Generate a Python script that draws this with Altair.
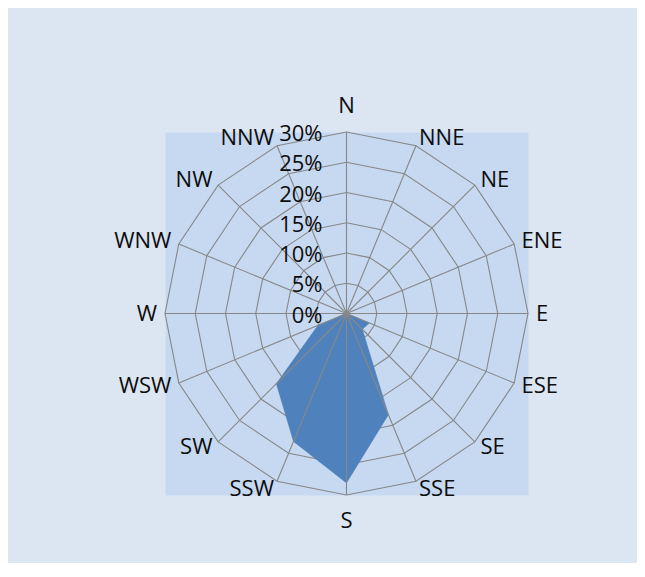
import altair as alt
import pandas as pd

# ---- data ----
directions = ["N", "NNE", "NE", "ENE", "E", "ESE", "SE", "SSE",
              "S", "SSW", "SW", "WSW", "W", "WNW", "NW", "NNW"]
share = [0, 0, 0, 0, 0, 4.1, 3.7, 18.1, 28.0, 22.9, 16.4, 5.1, 0, 0, 0, 0]
ring_levels = [5, 10, 15, 20, 25, 30]
tick_levels = [0, 5, 10, 15, 20, 25, 30]
tick_labels = ["0%", "5%", "10%", "15%", "20%", "25%", "30%"]

RMAX = 30
SIZE = 363
PX = SIZE / (2 * RMAX)  # pixels per data unit

FONT = "Open Sans"
FS = 22
TXT = "#0d0d0d"
GRID = "#878787"

series = pd.DataFrame({"dir": directions, "idx": list(range(16)), "val": share})
rings = pd.DataFrame(
    [{"level": lv, "idx": i} for lv in ring_levels for i in range(16)]
)
spokes = pd.DataFrame({"dir": directions, "idx": list(range(16)),
                       "r": [RMAX] * 16, "zero": [0] * 16})
ticks = pd.DataFrame({"level": tick_levels, "label": tick_labels, "zero": [0] * 7})

xs = alt.Scale(domain=[-RMAX, RMAX], nice=False, zero=False)
ys = alt.Scale(domain=[-RMAX, RMAX], nice=False, zero=False)

ANG = "datum.idx * PI / 8"


def X(field):
    return alt.X(field, type="quantitative", scale=xs, axis=None)


def Y(field):
    return alt.Y(field, type="quantitative", scale=ys, axis=None)


ring_layer = alt.Chart(rings).transform_calculate(
    px=f"datum.level * sin({ANG})", py=f"datum.level * cos({ANG})"
).mark_line(interpolate="linear-closed", color=GRID, strokeWidth=1.1).encode(
    x=X("px"), y=Y("py"), detail="level:N", order="idx:Q"
)

poly_layer = alt.Chart(series).transform_calculate(
    px=f"datum.val * sin({ANG})", py=f"datum.val * cos({ANG})"
).mark_line(interpolate="linear-closed", fill="#4f81bd", stroke="#4f81bd",
            strokeWidth=0.5, fillOpacity=1).encode(
    x=X("px"), y=Y("py"), order="idx:Q"
)

spoke_layer = alt.Chart(spokes).transform_calculate(
    px=f"datum.r * sin({ANG})", py=f"datum.r * cos({ANG})"
).mark_rule(color=GRID, strokeWidth=1.1).encode(
    x=X("zero"), y=Y("zero"), x2="px:Q", y2="py:Q"
)

side_r = RMAX + 8 / PX
vert_r = RMAX + 26 / PX

label_base = alt.Chart(series).transform_calculate(
    lr=f"(datum.idx == 0 || datum.idx == 8) ? {vert_r} : {side_r}"
).transform_calculate(
    px=f"datum.lr * sin({ANG})", py=f"datum.lr * cos({ANG})"
)

text_kw = dict(font=FONT, fontSize=FS, color=TXT, baseline="middle")

lab_left = label_base.transform_filter("datum.idx >= 1 && datum.idx <= 7").mark_text(
    align="left", **text_kw).encode(x=X("px"), y=Y("py"), text="dir:N")
lab_right = label_base.transform_filter("datum.idx >= 9").mark_text(
    align="right", **text_kw).encode(x=X("px"), y=Y("py"), text="dir:N")
lab_mid = label_base.transform_filter("datum.idx == 0 || datum.idx == 8").mark_text(
    align="center", **text_kw).encode(x=X("px"), y=Y("py"), text="dir:N")

tick_layer = alt.Chart(ticks).mark_text(
    align="right", dx=-24, dy=2, **text_kw
).encode(x=X("zero"), y=Y("level"), text="label:N")

chart = alt.layer(
    ring_layer, poly_layer, spoke_layer, lab_left, lab_right, lab_mid, tick_layer
).properties(
    width=SIZE,
    height=SIZE,
    background="#dce6f2",
    autosize=alt.AutoSizeParams(type="none"),
    padding={"left": 157, "top": 124, "right": 109, "bottom": 68},
).configure_view(fill="#c6d9f1", stroke="transparent")

chart.save("out.html", embed_options={"renderer": "svg", "actions": False})
